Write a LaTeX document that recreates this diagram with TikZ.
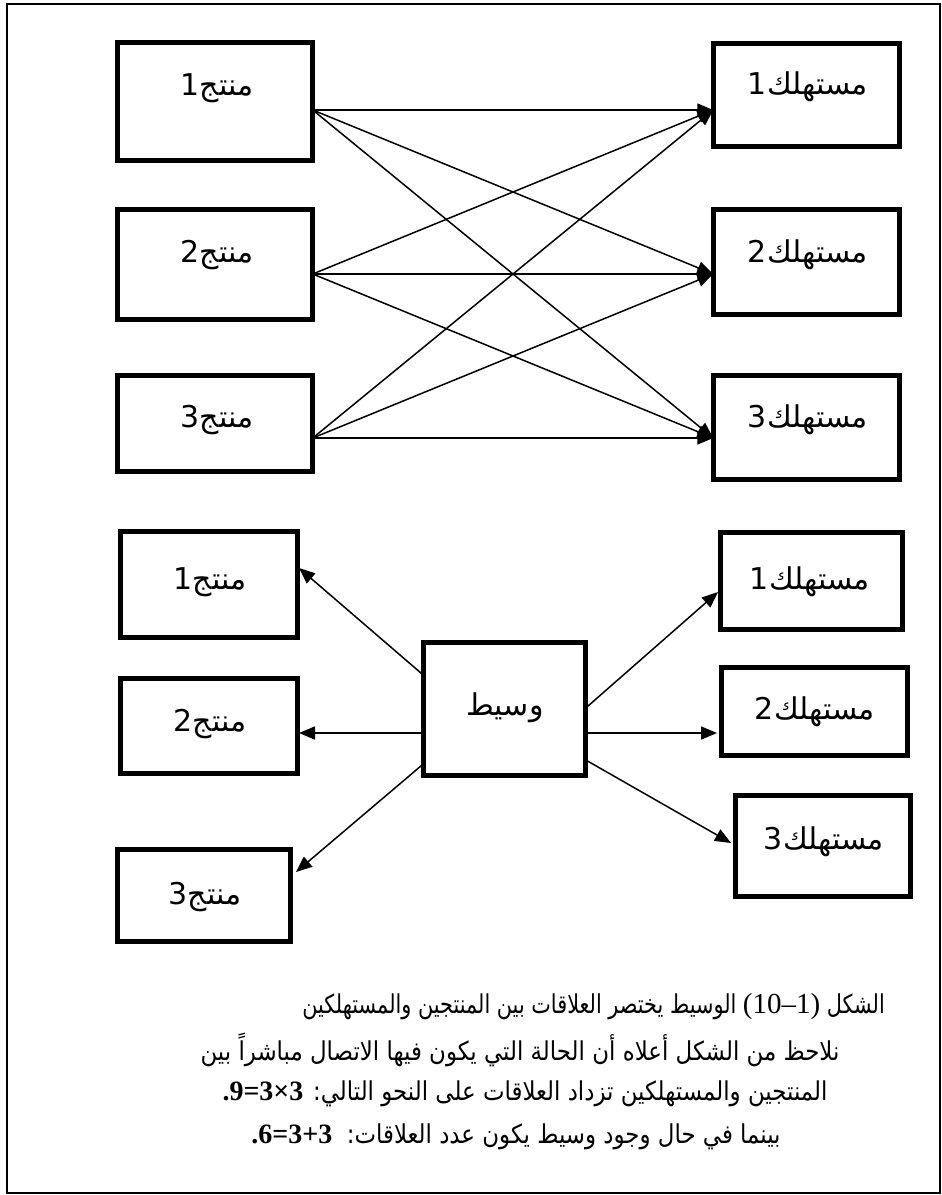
\documentclass[tikz,border=0pt]{standalone}
\usepackage{fontspec}
\usetikzlibrary{arrows.meta}
\newfontfamily\arabicfont[Script=Arabic]{DejaVu Sans}
\newfontfamily\captfont[Script=Arabic,FakeStretch=0.88]{DejaVu Sans}
\newfontfamily\captfontn[Script=Arabic,FakeStretch=0.8]{DejaVu Sans}
\newfontfamily\numfont{Liberation Serif}
\TeXXeTstate=1
\tikzset{
  box/.style={draw, rectangle, line width=5pt, inner sep=0pt, outer sep=0pt},
  lbl/.style={font=\arabicfont\fontsize{30}{34}\selectfont, inner sep=0pt},
  arr/.style={line width=1.5pt, -{Triangle[length=16pt,width=13pt]}},
  captxt/.style={font=\captfont\fontsize{26}{30}\selectfont, inner sep=0pt},
}
\newcommand{\lab}[2]{\hbox{#2}\hbox{\arabicfont #1}}
\newcommand{\nm}[1]{\hbox{\numfont\fontsize{29}{30}\selectfont #1}}
\newcommand{\bnm}[1]{\hbox{\numfont\bfseries\fontsize{28}{30}\selectfont #1}}
\begin{document}
\begin{tikzpicture}[x=1pt,y=-1pt]
\useasboundingbox (0,0) rectangle (942,1195);
\draw[line width=2.5pt] (7,4) rectangle (940,1193);
% top producers
\node[box, minimum width=195.5pt, minimum height=118.5pt] (p1) at (215,101.5) {};
\node[box, minimum width=195.5pt, minimum height=110.5pt] (p2) at (215,264.5) {};
\node[box, minimum width=195.5pt, minimum height=96.5pt]  (p3) at (215,423.5) {};
% top consumers
\node[box, minimum width=186.5pt, minimum height=103.5pt] (c1) at (806.5,95) {};
\node[box, minimum width=186.5pt, minimum height=105.5pt] (c2) at (806.5,262) {};
\node[box, minimum width=186.5pt, minimum height=104.5pt] (c3) at (806.5,427.5) {};
\node[lbl] (p1t) at (217,88)  {\lab{منتج}{1}};
\node[lbl] (p2t) at (217,255) {\lab{منتج}{2}};
\node[lbl] (p3t) at (217,420) {\lab{منتج}{3}};
\node[lbl] (c1t) at (808,87)  {\lab{مستهلك}{1}};
\node[lbl] (c2t) at (808,255) {\lab{مستهلك}{2}};
\node[lbl] (c3t) at (808,420) {\lab{مستهلك}{3}};
\coordinate (p1o) at (p1.east |- 0,110);
\coordinate (p2o) at (p2.east |- 0,274);
\coordinate (p3o) at (p3.east |- 0,438);
\coordinate (c1i) at (c1.west |- 0,110);
\coordinate (c2i) at (c2.west |- 0,274);
\coordinate (c3i) at (c3.west |- 0,438);
\foreach \a in {1,2,3}{\foreach \b in {1,2,3}{\draw[arr] (p\a o) -- (c\b i);}}
% bottom section
\node[box, minimum width=177.5pt, minimum height=106.5pt] (q1) at (209,584.5) {};
\node[box, minimum width=177.5pt, minimum height=95.5pt]  (q2) at (209,726) {};
\node[box, minimum width=173.5pt, minimum height=92.5pt]  (q3) at (204,895.5) {};
\node[box, minimum width=162.5pt, minimum height=133.5pt] (m)  at (504.5,709) {};
\node[box, minimum width=182.5pt, minimum height=97.5pt]  (d1) at (811.5,581) {};
\node[box, minimum width=186.5pt, minimum height=88.5pt]  (d2) at (814.5,711.5) {};
\node[box, minimum width=175.5pt, minimum height=101.5pt] (d3) at (823,846) {};
\node[lbl] (q1t) at (210,582) {\lab{منتج}{1}};
\node[lbl] (q2t) at (210,724) {\lab{منتج}{2}};
\node[lbl] (q3t) at (205,897) {\lab{منتج}{3}};
\node[lbl] (mt)  at (505,708) {\hbox{\arabicfont وسيط}};
\node[lbl] (d1t) at (810,582) {\lab{مستهلك}{1}};
\node[lbl] (d2t) at (815,712) {\lab{مستهلك}{2}};
\node[lbl] (d3t) at (824,842) {\lab{مستهلك}{3}};
\coordinate (ma1) at (m.west |- 0,675);
\coordinate (ma2) at (m.west |- 0,733);
\coordinate (ma3) at (m.west |- 0,764);
\coordinate (mb1) at (m.east |- 0,708);
\coordinate (mb2) at (m.east |- 0,733);
\coordinate (mb3) at (m.east |- 0,760);
\coordinate (q1i) at (299,568);
\coordinate (q2i) at (299,733);
\coordinate (q3i) at (296,872);
\coordinate (d1i) at (718,592);
\coordinate (d2i) at (717,733);
\coordinate (d3i) at (731,843);
\draw[arr] (ma1) -- (q1i);
\draw[arr] (ma2) -- (q2i);
\draw[arr] (ma3) -- (q3i);
\draw[arr] (mb1) -- (d1i);
\draw[arr] (mb2) -- (d2i);
\draw[arr] (mb3) -- (d3i);
% caption
\node[captxt, anchor=east] (l1) at (885,1007) {\captfontn\beginR الشكل \beginL\nm{(}\nm{10}\nm{–}\nm{1}\nm{)}\endL{} الوسيط يختصر العلاقات بين المنتجين والمستهلكين\endR};
\node[captxt] (l2) at (520,1050) {\captfont\beginR نلاحظ من الشكل أعلاه أن الحالة التي يكون فيها الاتصال مباشراً بين\endR};
\node[captxt] (l3) at (525,1094) {\captfont\beginR المنتجين والمستهلكين تزداد العلاقات على النحو التالي: \beginL\bnm{.9=3×3}\endL\endR};
\node[captxt] (l4) at (516,1137) {\captfont\beginR بينما في حال وجود وسيط يكون عدد العلاقات:\ \ \beginL\bnm{.6=3+3}\endL\endR};
\end{tikzpicture}
\end{document}
